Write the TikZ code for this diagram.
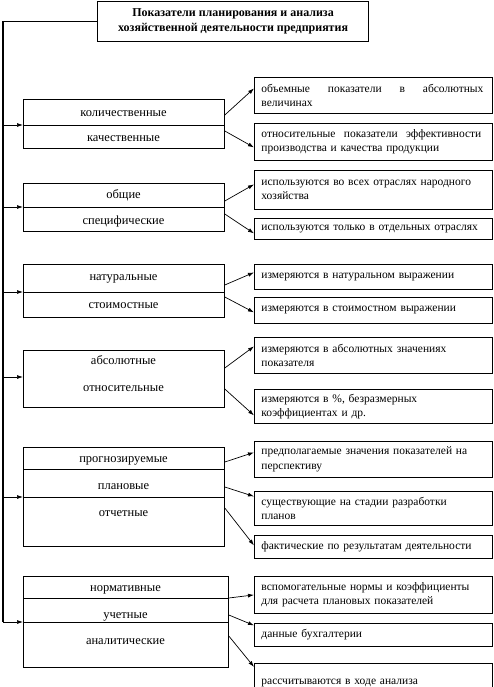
\documentclass[tikz,border=0pt]{standalone}
\usepackage{fontspec}
\setmainfont{Liberation Serif}
\usetikzlibrary{arrows.meta}
\begin{document}
\begin{tikzpicture}[x=1pt,y=-1pt,
  box/.style={draw, line width=0.8pt, inner sep=0pt, anchor=north west},
  rbox/.style={draw, line width=0.8pt, anchor=north west, minimum width=238pt, text width=224pt, inner xsep=7pt, inner ysep=0pt, align=left, font=\fontsize{11.5}{14.5}\selectfont},
  ltxt/.style={anchor=base, inner sep=0pt, font=\fontsize{12.5}{14}\selectfont},
  arr/.style={-{Latex[length=6pt,width=4pt]}, line width=0.7pt},
  trunk/.style={line width=1.1pt}
]
\clip (0,0) rectangle (493,687);
\useasboundingbox (0,0) rectangle (493,687);

% title
\node[draw, line width=1.2pt, minimum width=271pt, minimum height=40pt, anchor=north west, align=center, inner sep=0pt, font=\bfseries\fontsize{12}{15}\selectfont] (title) at (97,1) {Показатели планирования и анализа\\хозяйственной деятельности предприятия};

% trunk coordinates
\coordinate (b1) at (3,125);
\coordinate (b2) at (3,207);
\coordinate (b3) at (3,292);
\coordinate (b4) at (3,377);
\coordinate (b5) at (3,497);
\coordinate (b6) at (3,622);
\coordinate (c5) at (3,469);
\coordinate (c6) at (3,598);

% left groups
\node[box, minimum width=201pt, minimum height=49pt] (g1) at (23,99) {};
\node[box, minimum width=201pt, minimum height=48pt] (g2) at (23,183) {};
\node[box, minimum width=201pt, minimum height=53pt] (g3) at (23,264) {};
\node[box, minimum width=201pt, minimum height=57pt] (g4) at (23,350) {};
\node[box, minimum width=201pt, minimum height=99pt] (g5) at (23,447) {};
\node[box, minimum width=205pt, minimum height=91pt] (g6) at (23,576) {};

% dividers
\draw[line width=0.8pt] (b1 -| g1.west) -- (b1 -| g1.east);
\draw[line width=0.8pt] (b2 -| g2.west) -- (b2 -| g2.east);
\draw[line width=0.8pt] (b3 -| g3.west) -- (b3 -| g3.east);
\draw[line width=0.8pt] (c5 -| g5.west) -- (c5 -| g5.east);
\draw[line width=0.8pt] (b5 -| g5.west) -- (b5 -| g5.east);
\draw[line width=0.8pt] (c6 -| g6.west) -- (c6 -| g6.east);
\draw[line width=0.8pt] (b6 -| g6.west) -- (b6 -| g6.east);

% left texts
\node[ltxt] (t1a) at (123.5,117) {количественные};
\node[ltxt] (t1b) at (123.5,142) {качественные};
\node[ltxt] (t2a) at (123.5,198) {общие};
\node[ltxt] (t2b) at (123.5,224) {специфические};
\node[ltxt] (t3a) at (123.5,280) {натуральные};
\node[ltxt] (t3b) at (123.5,308) {стоимостные};
\node[ltxt] (t4a) at (123.5,364) {абсолютные};
\node[ltxt] (t4b) at (123.5,391) {относительные};
\node[ltxt] (t5a) at (123.5,462) {прогнозируемые};
\node[ltxt] (t5b) at (123.5,489) {плановые};
\node[ltxt] (t5c) at (123.5,516) {отчетные};
\node[ltxt] (t6a) at (125.5,591) {нормативные};
\node[ltxt] (t6b) at (125.5,618) {учетные};
\node[ltxt] (t6c) at (125.5,644) {аналитические};

% trunk
\draw[trunk] (title.west) -| (b6);
\foreach \b/\g in {b1/g1,b2/g2,b3/g3,b4/g4,b5/g5,b6/g6}
  \draw[arr] (\b) -- (\b -| \g.west);

% right boxes
\node[rbox, minimum height=36pt] (A) at (254,77) {\makebox[222pt][s]{объемные\hfill показатели\hfill в\hfill абсолютных}\\величинах};
\node[rbox, minimum height=37pt] (B) at (254,123) {\makebox[220pt][s]{относительные\hfill показатели\hfill эффективности}\\производства и качества продукции};
\node[rbox, minimum height=39pt] (C) at (254,170) {используются во всех отраслях народного\\хозяйства};
\node[rbox, minimum height=21pt] (D) at (254,218) {используются только в отдельных отраслях};
\node[rbox, minimum height=25pt] (E) at (254,264) {измеряются в натуральном выражении};
\node[rbox, minimum height=26pt] (F) at (254,297) {измеряются в стоимостном выражении};
\node[rbox, minimum height=36pt] (G) at (254,337) {измеряются в абсолютных значениях\\показателя};
\node[rbox, minimum height=34pt] (H) at (254,389) {измеряются в \%, безразмерных\\коэффициентах и др.};
\node[rbox, minimum height=36pt] (I) at (254,441) {предполагаемые значения показателей на\\перспективу};
\node[rbox, minimum height=34pt] (J) at (254,491) {существующие на стадии разработки\\планов};
\node[rbox, minimum height=23pt] (K) at (254,535) {фактические по результатам деятельности};
\node[rbox, minimum height=37pt] (L) at (254,576) {вспомогательные нормы и коэффициенты\\для расчета плановых показателей};
\node[rbox, minimum height=23pt] (M) at (254,623) {данные бухгалтерии};
\node[rbox, minimum height=40pt] (N) at (254,663) {рассчитываются в ходе анализа};

% connectors
\draw[arr] ([yshift=-16pt]g1.north east) -- ([yshift=7pt]A.west);
\draw[arr] ([yshift=-32pt]g1.north east) -- ([yshift=-5.5pt]B.west);
\draw[arr] ([yshift=-18pt]g2.north east) -- ([yshift=5.5pt]C.west);
\draw[arr] ([yshift=-31pt]g2.north east) -- ([yshift=-4.5pt]D.west);
\draw[arr] ([yshift=-21pt]g3.north east) -- ([yshift=4.5pt]E.west);
\draw[arr] ([yshift=-33pt]g3.north east) -- ([yshift=-2pt]F.west);
\draw[arr] ([yshift=-18pt]g4.north east) -- ([yshift=9pt]G.west);
\draw[arr] ([yshift=-39pt]g4.north east) -- ([yshift=-9pt]H.west);
\draw[arr] ([yshift=-15pt]g5.north east) -- ([yshift=7pt]I.west);
\draw[arr] ([yshift=-40pt]g5.north east) -- ([yshift=12pt]J.west);
\draw[arr] ([yshift=-61pt]g5.north east) -- ([yshift=1.5pt]K.west);
\draw[arr] ([yshift=-22pt]g6.north east) -- (L.west);
\draw[arr] ([yshift=-39pt]g6.north east) -- ([yshift=9.5pt]M.west);
\draw[arr] ([yshift=-60pt]g6.north east) -- ([yshift=16.5pt]N.west);
\end{tikzpicture}
\end{document}
